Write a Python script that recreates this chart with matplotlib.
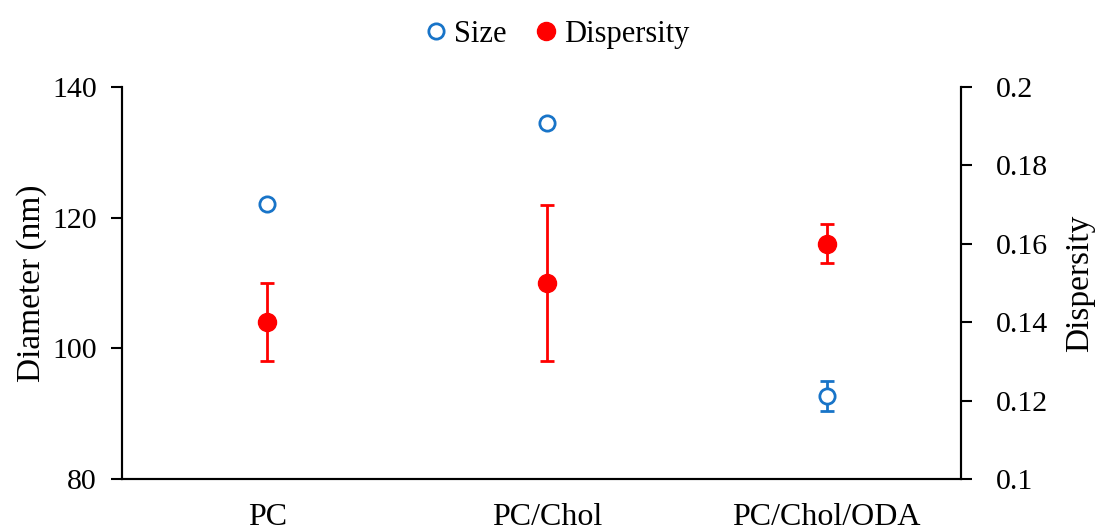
import numpy as np
import matplotlib
matplotlib.use("Agg")
from matplotlib import pyplot as plt

matplotlib.rcParams['font.family'] = ['Liberation Serif', 'DejaVu Serif']
matplotlib.rcParams['font.size'] = 21.5

categories = ["PC", "PC/Chol", "PC/Chol/ODA"]
size = [122.1, 134.5, 92.7]
size_err = [0.5, 0.6, 2.3]
dispersity = [0.14, 0.15, 0.16]
dispersity_err = [0.01, 0.02, 0.005]

blue = "#1874c8"
red = "#ff0000"

fig = plt.figure(figsize=(10.96, 5.3), dpi=100)
ax = fig.add_axes([0.1113, 0.0962, 0.7655, 0.7396])
ax2 = ax.twinx()

x = np.arange(len(categories))

h1 = ax.errorbar(x, size, yerr=size_err, fmt="o", color=blue, mfc="white",
                 mec=blue, mew=2, ms=11, ecolor=blue, elinewidth=2,
                 capsize=5, capthick=2, label="Size", zorder=3)
h2 = ax2.errorbar(x, dispersity, yerr=dispersity_err, fmt="o", color=red,
                  ms=13, ecolor=red, elinewidth=2, capsize=5, capthick=2,
                  label="Dispersity", zorder=3)

ax.set_xlim(-0.52, 2.48)
ax.set_ylim(80, 140)
ax.set_yticks([80, 100, 120, 140])
ax2.set_ylim(0.1, 0.2)
ax2.set_yticks(np.arange(0.1, 0.2001, 0.02))
ax2.set_yticklabels(["0.1", "0.12", "0.14", "0.16", "0.18", "0.2"])

ax.set_xticks(x)
ax.set_xticklabels(categories, fontsize=23)
ax.tick_params(axis="x", length=0, pad=17)
ax.tick_params(axis="y", direction="out", length=8, width=1.5, pad=10)
ax2.tick_params(axis="y", direction="out", length=8, width=1.5, pad=17)

for a in (ax, ax2):
    a.spines["top"].set_visible(False)
    for s in ("left", "right", "bottom"):
        a.spines[s].set_linewidth(1.5)

ax.set_ylabel("Diameter (nm)", fontsize=24, labelpad=4)
ax2.set_ylabel("Dispersity", fontsize=24, labelpad=12)

fig.legend(handles=[h1[0], h2[0]], labels=["Size", "Dispersity"], loc="upper center",
           bbox_to_anchor=(0.505, 1.015), ncol=2, frameon=False, handletextpad=0.0,
           handlelength=1.2, columnspacing=0.7, fontsize=22, markerscale=1.0)

plt.savefig("out.png", dpi=100)
